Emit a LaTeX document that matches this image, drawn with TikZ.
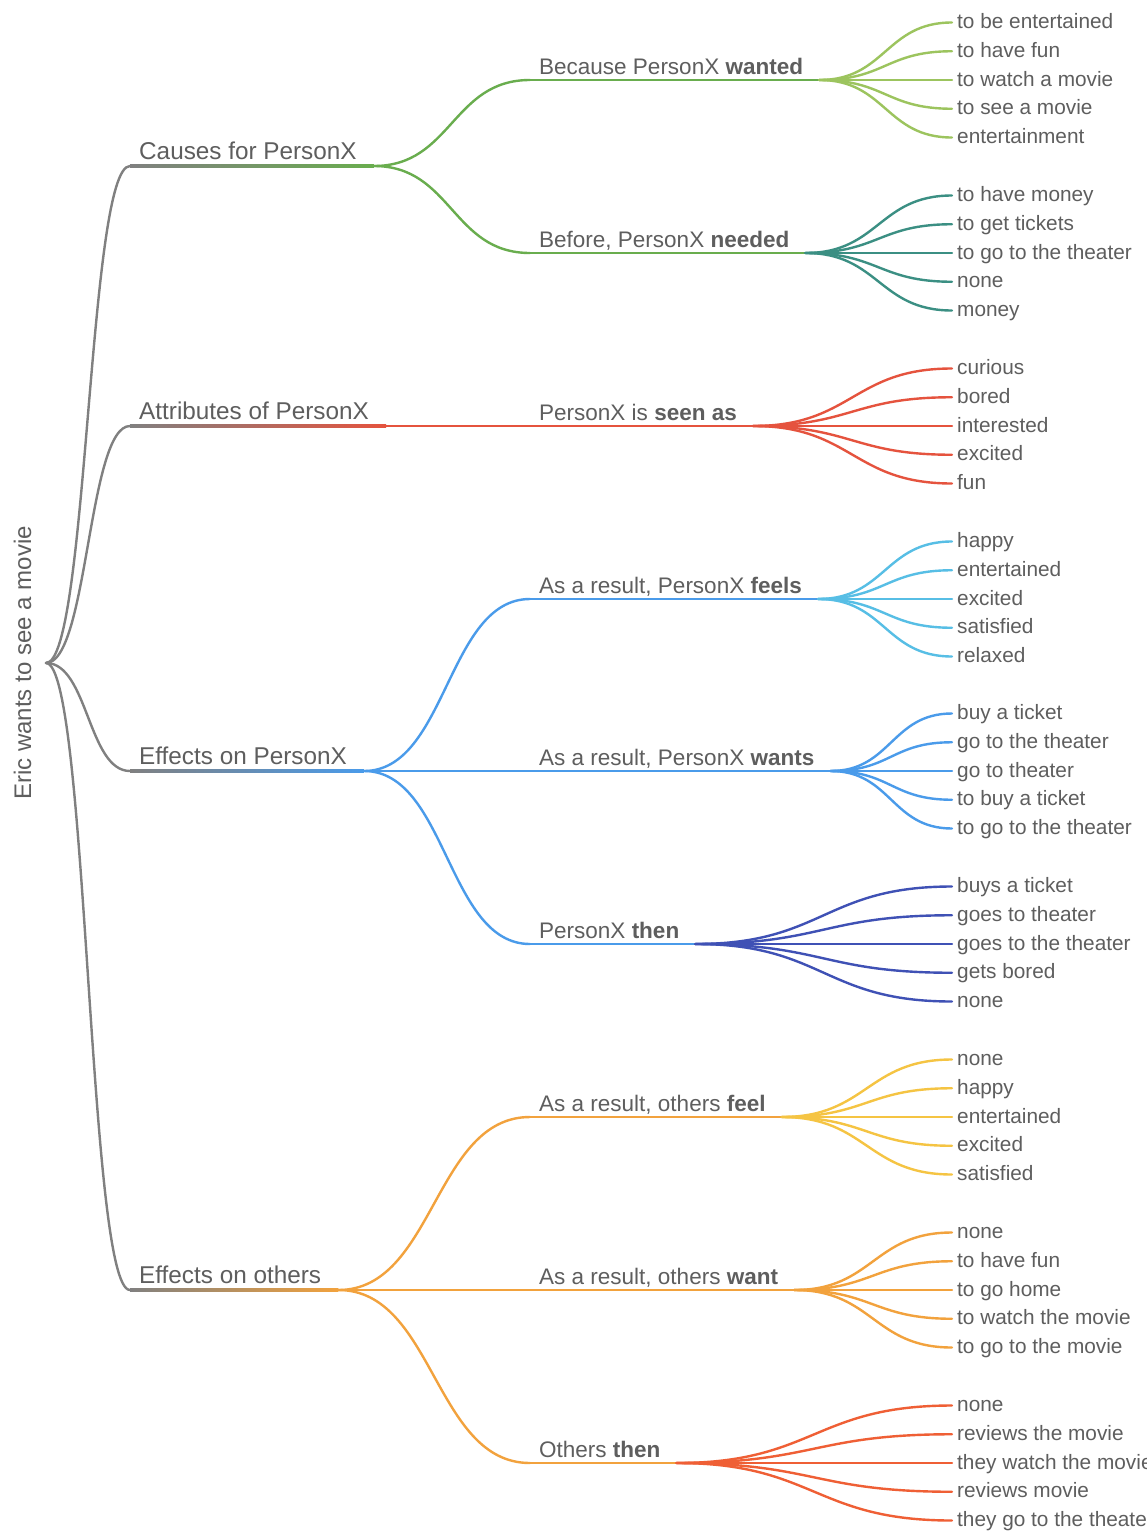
\documentclass[tikz,border=0pt]{standalone}
\usepackage{fontspec}
\setmainfont{Liberation Sans}
\usetikzlibrary{calc}
\definecolor{tc}{HTML}{5E5E5E}
\definecolor{cgray}{HTML}{808080}
\definecolor{cgreen}{HTML}{69AD4E}
\definecolor{clgreen}{HTML}{9CC45E}
\definecolor{cteal}{HTML}{3B8F83}
\definecolor{cred}{HTML}{E5533E}
\definecolor{clblue}{HTML}{57BEE5}
\definecolor{cblue}{HTML}{4A9BEA}
\definecolor{cdblue}{HTML}{3F51B5}
\definecolor{corange}{HTML}{F2A23D}
\definecolor{cyellow}{HTML}{F5C443}
\definecolor{crorange}{HTML}{EF5F35}
\tikzset{
  txt/.style={text=tc, inner sep=0pt},
  rootlabel/.style={txt, rotate=90, anchor=base, font=\fontsize{24}{28}\selectfont},
  lone/.style={txt, anchor=base west, font=\fontsize{24.3}{28}\selectfont},
  ltwo/.style={txt, anchor=base west, font=\fontsize{22.5}{26}\selectfont},
  leaf/.style={txt, anchor=mid west, inner xsep=5pt, inner ysep=0pt, yshift=-3.5pt, font=\fontsize{20.8}{24}\selectfont},
  wire/.style={line width=2.4pt, line cap=round}
}
\newcommand\mmlink[3]{\draw[wire,#1] let \p1=(#2), \p2=(#3) in (\p1) .. controls ({(\x1+\x2)/2},\y1) and ({(\x1+\x2)/2},\y2) .. (\p2);}
\newcommand\gradline[3]{\shade[left color=cgray, right color=#1] let \p1=(#2), \p2=(#3) in (\x1,\y1-1.2pt) rectangle (\x2,\y2+1.2pt);}
\begin{document}
\begin{tikzpicture}[x=1pt,y=1pt]
\useasboundingbox (0,0) rectangle (1146,-1531);
\clip (0,0) rectangle (1146,-1531);
\fill[white] (0,0) rectangle (1146,-1531);

% root
\node[rootlabel] (root) at (31,-663) {Eric wants to see a movie};
\coordinate (r) at (46,-663);

% level 1
\node[lone] (A) at (139,-159) {Causes for PersonX};
\node[lone] (B) at (139,-419) {Attributes of PersonX};
\node[lone] (C) at (139,-764) {Effects on PersonX};
\node[lone] (D) at (139,-1283) {Effects on others};
\foreach \nm/\yy in {A/166,B/426,C/771,D/1290}{
  \coordinate (s\nm) at (130,-\yy);
  \coordinate (t\nm) at (0,-\yy);
  \path let \p1=(\nm.east), \p2=(t\nm) in coordinate (e\nm) at (\x1+17pt,\y2);
  \mmlink{cgray}{r}{s\nm}
}
\gradline{cgreen}{sA}{eA}
\gradline{cred}{sB}{eB}
\gradline{cblue}{sC}{eC}
\gradline{corange}{sD}{eD}

% level 2
\node[ltwo] (b0) at (539,-74) {Because PersonX \textbf{wanted}};
\node[ltwo] (b1) at (539,-247) {Before, PersonX \textbf{needed}};
\node[ltwo] (b2) at (539,-420) {PersonX is \textbf{seen as}};
\node[ltwo] (b3) at (539,-593) {As a result, PersonX \textbf{feels}};
\node[ltwo] (b4) at (539,-765) {As a result, PersonX \textbf{wants}};
\node[ltwo] (b5) at (539,-938) {PersonX \textbf{then}};
\node[ltwo] (b6) at (539,-1111) {As a result, others \textbf{feel}};
\node[ltwo] (b7) at (539,-1284) {As a result, others \textbf{want}};
\node[ltwo] (b8) at (539,-1457) {Others \textbf{then}};

\foreach \ii/\yy/\pa/\cc in {0/80/A/cgreen,1/253/A/cgreen,2/426/B/cred,3/599/C/cblue,4/771/C/cblue,5/944/C/cblue,6/1117/D/corange,7/1290/D/corange,8/1463/D/corange}{
  \coordinate (s\ii) at (530,-\yy);
  \path let \p1=(b\ii.east), \p2=(s\ii) in coordinate (e\ii) at (\x1+16pt,\y2);
  \mmlink{\cc}{e\pa}{s\ii}
  \draw[wire,\cc] (s\ii) -- (e\ii);
}

% leaves
\foreach \ii/\yy/\cc/\list in {
  0/80/clgreen/{to be entertained,to have fun,to watch a movie,to see a movie,entertainment},
  1/253/cteal/{to have money,to get tickets,to go to the theater,none,money},
  2/426/cred/{curious,bored,interested,excited,fun},
  3/599/clblue/{happy,entertained,excited,satisfied,relaxed},
  4/771/cblue/{buy a ticket,go to the theater,go to theater,to buy a ticket,to go to the theater},
  5/944/cdblue/{buys a ticket,goes to theater,goes to the theater,gets bored,none},
  6/1117/cyellow/{none,happy,entertained,excited,satisfied},
  7/1290/corange/{none,to have fun,to go home,to watch the movie,to go to the movie},
  8/1463/crorange/{none,reviews the movie,they watch the movie,reviews movie,they go to the theater}}{
  \foreach \tt [count=\kk] in \list {
    \coordinate (P\ii-\kk) at (952,{-(\yy+28.75*(\kk-3))});
    \node[leaf] (L\ii-\kk) at (P\ii-\kk) {\tt};
    \mmlink{\cc}{e\ii}{P\ii-\kk}
  }
}
\end{tikzpicture}
\end{document}
